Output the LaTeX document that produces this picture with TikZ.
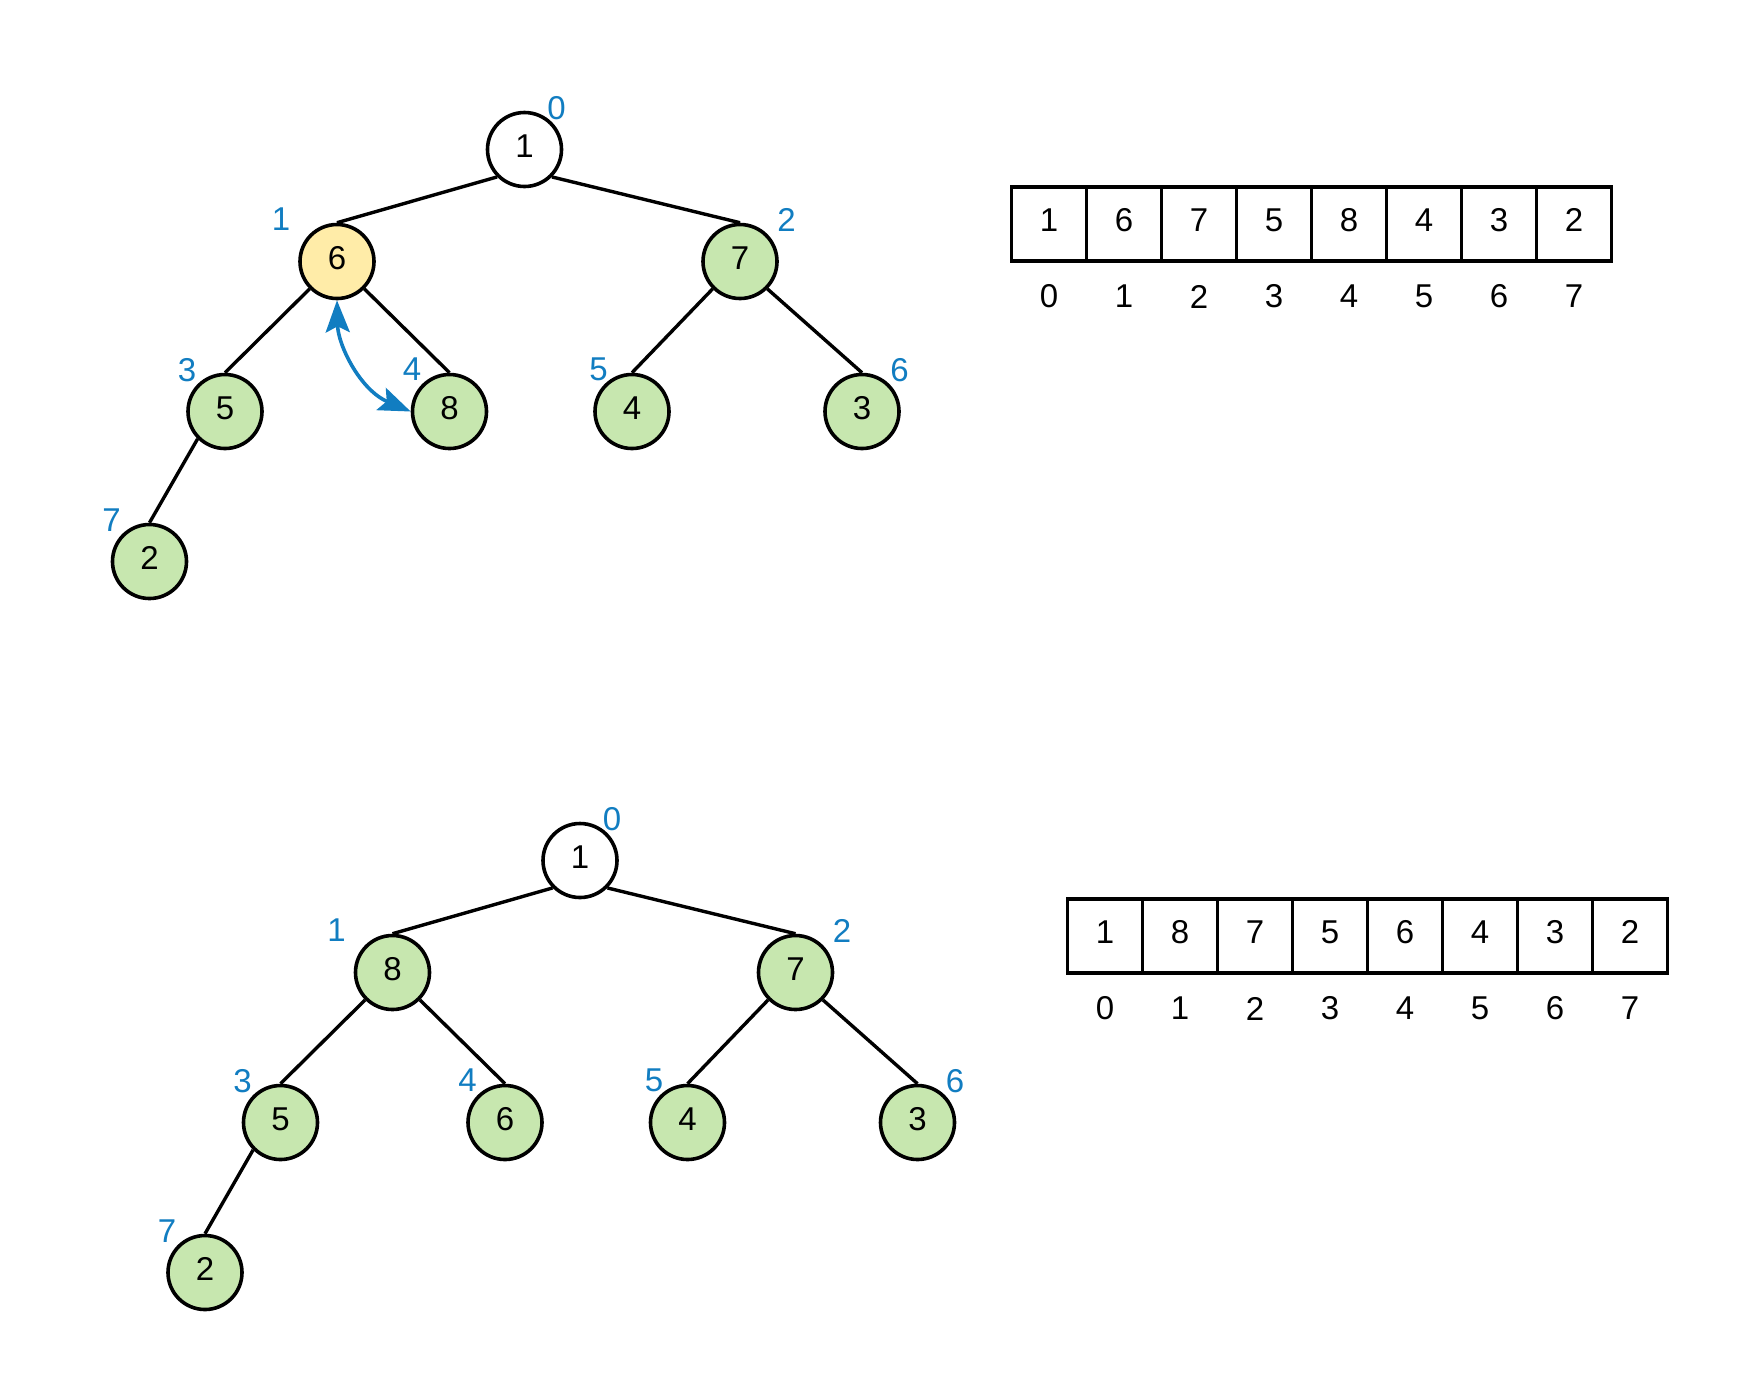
\documentclass[tikz,border=0pt]{standalone}
\usepackage{fontspec}
\setmainfont{Liberation Sans}
\usetikzlibrary{arrows.meta}
\definecolor{leafgreen}{RGB}{199,231,175}
\definecolor{heapyellow}{RGB}{255,236,168}
\definecolor{idxblue}{RGB}{17,125,193}
\begin{document}
\begin{tikzpicture}[x=0.5pt,y=-0.5pt,
  every node/.style={font=\fontsize{16.5}{19}\selectfont},
  hnode/.style={circle,draw,line width=1.8pt,minimum size=37pt,inner sep=0pt,fill=white,text depth=3.6pt},
  gnode/.style={hnode,fill=leafgreen},
  ynode/.style={hnode,fill=heapyellow},
  idxlabel/.style={text=idxblue,inner sep=0pt},
  treeedge/.style={line width=1.7pt},
  arrcell/.style={rectangle,draw,line width=1.8pt,minimum width=37.5pt,minimum height=37pt,inner sep=0pt,text depth=3.6pt},
  arridx/.style={inner sep=0pt},
  swaparrow/.style={draw=idxblue,line width=1.8pt,{Stealth[length=16pt,width=12pt,inset=3pt]}-{Stealth[length=16pt,width=12pt,inset=3pt]}}
]
\fill[white] (0,0) rectangle (1744,1388);
\useasboundingbox (0,0) rectangle (1744,1388);

% ---------- top heap ----------
\node[hnode] (ar) at (524.5,149.5) {1};
\node[ynode] (a1) at (337,261.5) {6};
\node[gnode] (a2) at (740,261.5) {7};
\node[gnode] (a3) at (225,411.5) {5};
\node[gnode] (a4) at (449.5,411.5) {8};
\node[gnode] (a5) at (632,411.5) {4};
\node[gnode] (a6) at (862,411.5) {3};
\node[gnode] (a7) at (149.5,561.5) {2};

\draw[treeedge] (ar.south west) -- (a1.north);
\draw[treeedge] (ar.south east) -- (a2.north);
\draw[treeedge] (a1.south west) -- (a3.north);
\draw[treeedge] (a1.south east) -- (a4.north);
\draw[treeedge] (a2.south west) -- (a5.north);
\draw[treeedge] (a2.south east) -- (a6.north);
\draw[treeedge] (a3.south west) -- (a7.north);

\node[idxlabel] (al0) at (556.5,108) {0};
\node[idxlabel] (al1) at (281,219.5) {1};
\node[idxlabel] (al2) at (786.5,220) {2};
\node[idxlabel] (al3) at (187,370) {3};
\node[idxlabel] (al4) at (412,369) {4};
\node[idxlabel] (al5) at (598.5,369.5) {5};
\node[idxlabel] (al6) at (899.5,370) {6};
\node[idxlabel] (al7) at (111.5,520) {7};

\draw[swaparrow] (a1.south) .. controls (338,345) and (360,390) .. (a4.west);

\foreach \v [count=\i from 0] in {1,6,7,5,8,4,3,2} {
  \node[arrcell] (ac\i) at (1049+75*\i,223.7) {\v};
  \node[arridx] (ai\i) at (1049+75*\i,296.5) {\i};
}

% ---------- bottom heap ----------
\begin{scope}[shift={(55.5,711)}]
\node[hnode] (br) at (524.5,149.5) {1};
\node[gnode] (b1) at (337,261.5) {8};
\node[gnode] (b2) at (740,261.5) {7};
\node[gnode] (b3) at (225,411.5) {5};
\node[gnode] (b4) at (449.5,411.5) {6};
\node[gnode] (b5) at (632,411.5) {4};
\node[gnode] (b6) at (862,411.5) {3};
\node[gnode] (b7) at (149.5,561.5) {2};

\draw[treeedge] (br.south west) -- (b1.north);
\draw[treeedge] (br.south east) -- (b2.north);
\draw[treeedge] (b1.south west) -- (b3.north);
\draw[treeedge] (b1.south east) -- (b4.north);
\draw[treeedge] (b2.south west) -- (b5.north);
\draw[treeedge] (b2.south east) -- (b6.north);
\draw[treeedge] (b3.south west) -- (b7.north);

\node[idxlabel] (bl0) at (556.5,108) {0};
\node[idxlabel] (bl1) at (281,219.5) {1};
\node[idxlabel] (bl2) at (786.5,220) {2};
\node[idxlabel] (bl3) at (187,370) {3};
\node[idxlabel] (bl4) at (412,369) {4};
\node[idxlabel] (bl5) at (598.5,369.5) {5};
\node[idxlabel] (bl6) at (899.5,370) {6};
\node[idxlabel] (bl7) at (111.5,520) {7};
\end{scope}

\foreach \v [count=\i from 0] in {1,8,7,5,6,4,3,2} {
  \node[arrcell] (bc\i) at (1105+75*\i,936) {\v};
  \node[arridx] (bi\i) at (1105+75*\i,1008.5) {\i};
}
\end{tikzpicture}
\end{document}
